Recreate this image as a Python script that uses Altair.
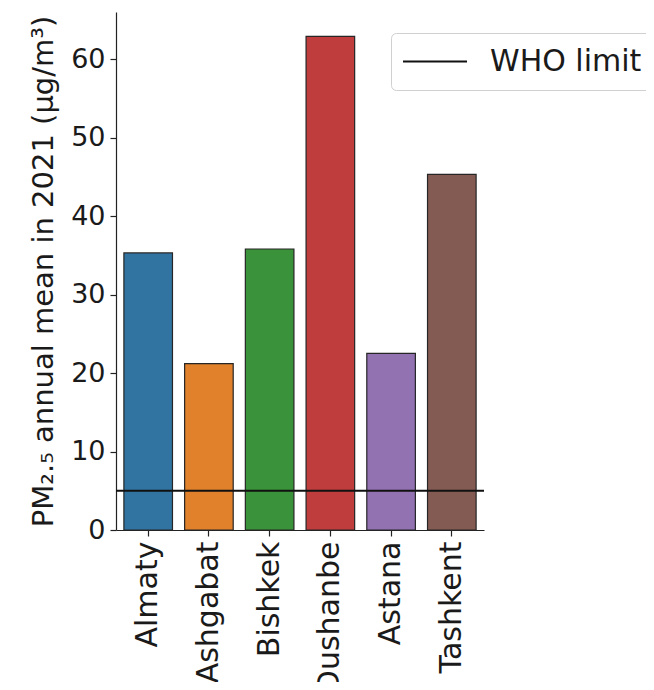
import altair as alt
import pandas as pd

cities = ["Almaty", "Ashgabat", "Bishkek", "Dushanbe", "Astana", "Tashkent"]
pm25 = [35.3, 21.2, 35.8, 62.9, 22.5, 45.3]
bar_colors = ["#3274a1", "#e1812c", "#3a923a", "#c03d3e", "#9372b2", "#845b53"]
who_value = [5]
who_label = ["WHO limit"]
y_ticks = [0, 10, 20, 30, 40, 50, 60]

df = pd.DataFrame({"city": cities, "pm": pm25})
df_who = pd.DataFrame({"y": who_value, "label": who_label})

FONT = "DejaVu Sans"
TXT = "#1a1a1a"

bars = alt.Chart(df).mark_bar(stroke="#262626", strokeWidth=1.2).encode(
    x=alt.X(
        "city:N",
        sort=cities,
        scale=alt.Scale(paddingInner=0.2, paddingOuter=0.13),
        axis=alt.Axis(
            title=None,
            labelAngle=270,
            labelFontSize=30,
            labelFont=FONT,
            labelColor=TXT,
            labelPadding=5,
            tickSize=6,
            tickColor="#222",
            tickWidth=1.2,
            domainColor="#222",
            domainWidth=1.2,
        ),
    ),
    y=alt.Y(
        "pm:Q",
        scale=alt.Scale(domain=[0, 66], nice=False),
        axis=alt.Axis(
            values=y_ticks,
            title="PM₂.₅ annual mean in 2021 (μg/m³)",
            titleFontSize=29,
            titleFont=FONT,
            titleFontWeight="normal",
            titleColor=TXT,
            titlePadding=12,
            labelFontSize=27,
            labelFont=FONT,
            labelColor=TXT,
            labelPadding=5,
            tickSize=6,
            tickColor="#222",
            tickWidth=1.2,
            domainColor="#222",
            domainWidth=1.2,
            grid=False,
        ),
    ),
    color=alt.Color("city:N", scale=alt.Scale(domain=cities, range=bar_colors), legend=None),
)

rule = alt.Chart(df_who).mark_rule(strokeWidth=2).encode(
    y=alt.Y("y:Q"),
    stroke=alt.Stroke(
        "label:N",
        scale=alt.Scale(domain=who_label, range=["#111111"]),
        legend=alt.Legend(
            title=None,
            orient="none",
            legendX=275,
            legendY=21,
            symbolType="stroke",
            symbolSize=4096,
            symbolStrokeWidth=2,
            labelFontSize=30,
            labelFont=FONT,
            labelColor=TXT,
            labelOffset=22,
            padding=11,
            clipHeight=35,
            strokeColor="#d0d0d0",
            cornerRadius=5,
            fillColor="white",
        ),
    ),
)

chart = alt.layer(bars, rule).properties(
    width=368,
    height=518,
    autosize=alt.AutoSizeParams(type="none"),
    padding={"left": 108, "top": 4, "right": 162, "bottom": 152},
).configure_view(stroke=None)

chart.save("out.html", embed_options={"renderer": "svg", "actions": False})
